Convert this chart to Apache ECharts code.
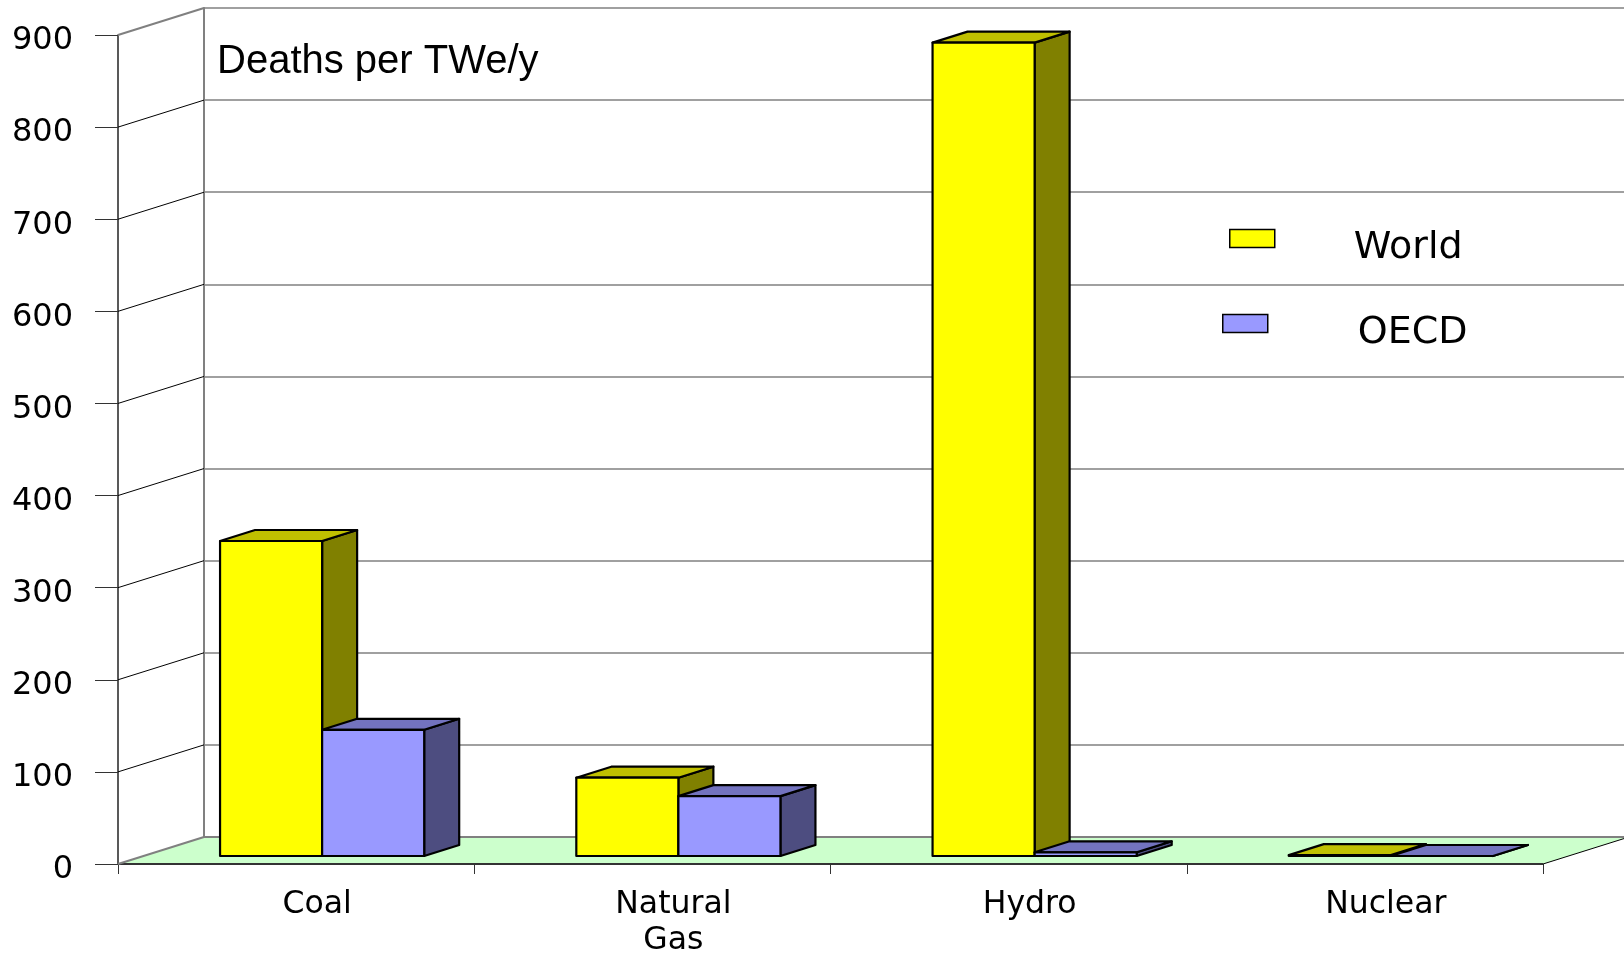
<!DOCTYPE html>
<html>
<head>
<meta charset="utf-8">
<style>html,body{margin:0;padding:0;background:#fff}#c{width:1624px;height:954px}</style>
<script src="https://cdn.jsdelivr.net/npm/echarts@6/dist/echarts.min.js"></script>
</head>
<body>
<div id="c"></div>
<script>
const categories = ['Coal', 'Natural\nGas', 'Hydro', 'Nuclear'];
const worldValues = [342, 85, 883, 1];
const oecdValues = [137, 65, 4, 0];
const yTicks = [0, 100, 200, 300, 400, 500, 600, 700, 800, 900];
const titleText = 'Deaths per TWe/y';

const WALL_DX = 86, WALL_DY = 27;     // depth of the whole chart box
const BAR_DX = 35, BAR_DY = 11;       // depth of each column
const SHIFT_DX = 26, SHIFT_DY = 8;    // columns stand inside the floor
const BAR_FRACTION = 0.2865;

function barRenderer(slot, front, top, side) {
  return function (params, api) {
    const cat = api.value(0), v = api.value(1);
    const base = api.coord([cat, 0]), head = api.coord([cat, v]);
    const w = api.size([1, 0])[0] * BAR_FRACTION;
    const x0 = base[0] + SHIFT_DX + (slot - 1) * w, x1 = x0 + w;
    const yb = base[1] - SHIFT_DY, yt = head[1] - SHIFT_DY;
    const line = {stroke: '#000', lineWidth: 2.2, lineJoin: 'round'};
    const poly = (pts, fill) => ({type: 'polygon', shape: {points: pts}, style: Object.assign({fill}, line)});
    return {type: 'group', children: [
      poly([[x1, yb], [x1 + BAR_DX, yb - BAR_DY], [x1 + BAR_DX, yt - BAR_DY], [x1, yt]], side),
      poly([[x0, yt], [x0 + BAR_DX, yt - BAR_DY], [x1 + BAR_DX, yt - BAR_DY], [x1, yt]], top),
      poly([[x0, yb], [x1, yb], [x1, yt], [x0, yt]], front)
    ]};
  };
}

const option = {
  animation: false,
  backgroundColor: '#fff',
  textStyle: {fontFamily: '"DejaVu Sans"'},
  title: {
    text: titleText, left: 212, top: 37,
    textStyle: {fontFamily: '"Liberation Sans"', fontSize: 40, fontWeight: 'normal', color: '#000'}
  },
  legend: [
    {data: ['World'], left: 1229, top: 210, padding: 0, icon: 'rect', itemWidth: 45, itemHeight: 18,
     formatter: n => '\n' + n,
     itemStyle: {borderColor: '#000', borderWidth: 1.5},
     textStyle: {fontSize: 38, lineHeight: 19, color: '#000', padding: [0, 0, 0, 74]}},
    {data: ['OECD'], left: 1222, top: 295, padding: 0, icon: 'rect', itemWidth: 45, itemHeight: 18,
     formatter: n => '\n' + n,
     itemStyle: {borderColor: '#000', borderWidth: 1.5},
     textStyle: {fontSize: 38, lineHeight: 19, color: '#000', padding: [0, 0, 0, 85]}}
  ],
  grid: [
    {left: 118, top: 35, width: 1425, height: 829, outerBoundsMode: 'none'},
    {left: 118 + WALL_DX, top: 35 - WALL_DY, width: 1425, height: 829, outerBoundsMode: 'none'}
  ],
  xAxis: [
    {type: 'category', gridIndex: 0, data: categories,
     axisLine: {show: false},
     axisTick: {show: true, length: 10, alignWithLabel: false, lineStyle: {color: '#333', width: 1}},
     axisLabel: {fontSize: 31.5, color: '#000', margin: 23, lineHeight: 36, padding: [0, 0, 0, 42], interval: 0}},
    {type: 'category', gridIndex: 1, data: categories, show: false}
  ],
  yAxis: [
    {type: 'value', gridIndex: 0, min: 0, max: 900, interval: 100,
     axisLine: {show: true, lineStyle: {color: '#222', width: 1.5}},
     axisTick: {show: true, length: 23, lineStyle: {color: '#333', width: 1}},
     axisLabel: {fontSize: 32, color: '#000', margin: 45, verticalAlign: 'top', lineHeight: 12,
       formatter: v => yTicks.includes(v) ? String(v) : ''},
     splitLine: {show: false}},
    {type: 'value', gridIndex: 1, min: 0, max: 900, interval: 100,
     axisLine: {show: true, lineStyle: {color: '#808080', width: 2}},
     axisTick: {show: false}, axisLabel: {show: false},
     splitLine: {show: true, lineStyle: {color: '#808080', width: 1.5}}}
  ],
  series: [
    {type: 'custom', name: 'floor', xAxisIndex: 0, yAxisIndex: 0, z: 1, silent: true, clip: false,
     data: [[0]],
     renderItem: function (params, api) {
       const band = api.size([1, 0])[0];
       const a = api.coord([0, 0]), b = api.coord([categories.length - 1, 0]);
       const xl = a[0] - band / 2, xr = b[0] + band / 2, y = a[1];
       return {type: 'group', children: [
         {type: 'polygon', shape: {points: [[xl, y], [xr, y], [xr + WALL_DX, y - WALL_DY], [xl + WALL_DX, y - WALL_DY]]},
          style: {fill: '#ccffcc'}},
         {type: 'line', shape: {x1: xl + WALL_DX, y1: y - WALL_DY, x2: xr + WALL_DX, y2: y - WALL_DY},
          style: {stroke: '#808080', lineWidth: 2}},
         {type: 'line', shape: {x1: xl, y1: y, x2: xr, y2: y}, style: {stroke: '#333', lineWidth: 2}},
         {type: 'line', shape: {x1: xr, y1: y, x2: xr + WALL_DX, y2: y - WALL_DY}, style: {stroke: '#000', lineWidth: 1}}
       ]};
     }},
    {type: 'custom', name: 'depth', xAxisIndex: 0, yAxisIndex: 0, z: 1, silent: true, clip: false,
     data: yTicks.map(v => [v]),
     encode: {y: 0},
     renderItem: function (params, api) {
       const v = api.value(0);
       const band = api.size([1, 0])[0];
       const p = api.coord([0, v]);
       const xl = p[0] - band / 2;
       const edge = v === yTicks[0] || v === yTicks[yTicks.length - 1];
       return {type: 'line', shape: {x1: xl, y1: p[1], x2: xl + WALL_DX, y2: p[1] - WALL_DY},
         style: {stroke: edge ? '#808080' : '#000', lineWidth: edge ? 2 : 1}};
     }},
    {type: 'custom', name: 'World', xAxisIndex: 0, yAxisIndex: 0, z: 3, clip: false,
     itemStyle: {color: '#ffff00'},
     data: worldValues.map((v, i) => [i, v]), encode: {x: 0, y: 1},
     renderItem: barRenderer(0, '#ffff00', '#c0c000', '#808000')},
    {type: 'custom', name: 'OECD', xAxisIndex: 0, yAxisIndex: 0, z: 3, clip: false,
     itemStyle: {color: '#9999ff'},
     data: oecdValues.map((v, i) => [i, v]), encode: {x: 0, y: 1},
     renderItem: barRenderer(1, '#9999ff', '#7373bf', '#4d4d80')}
  ]
};
const chart = echarts.init(document.getElementById('c'));
chart.setOption(option);
</script>
</body>
</html>
